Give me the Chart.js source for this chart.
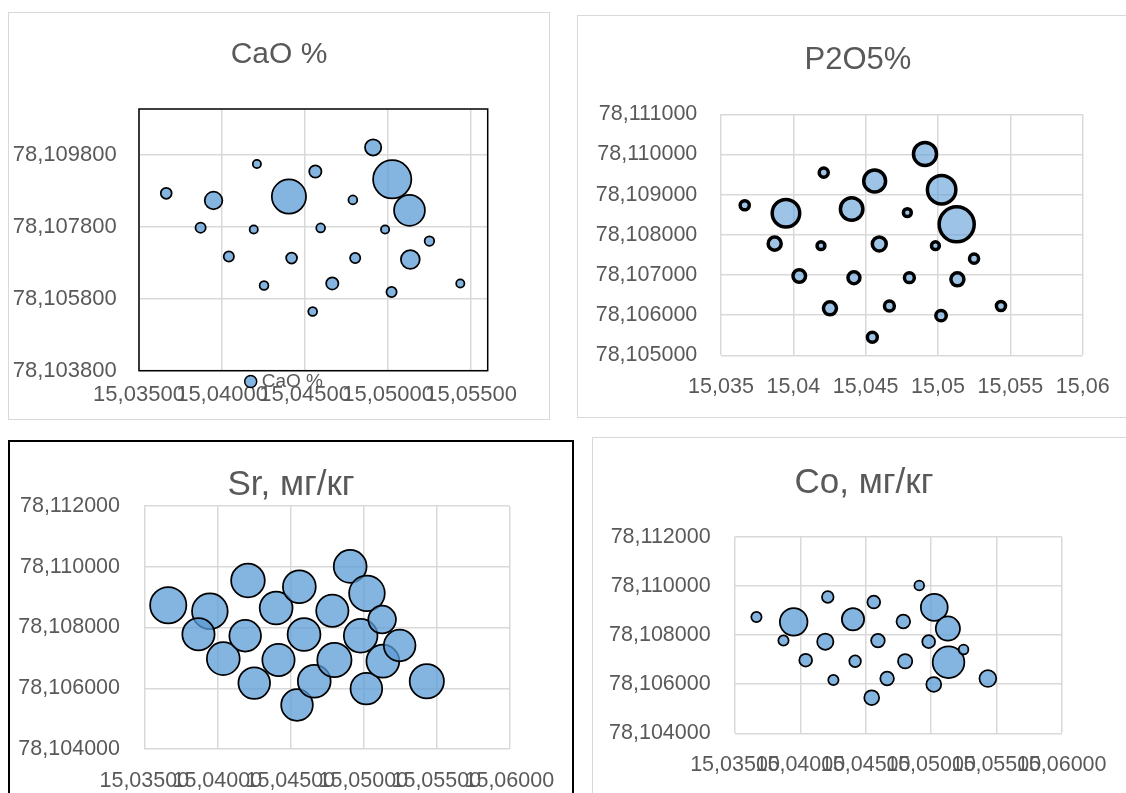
<!DOCTYPE html>
<html>
<head>
<meta charset="UTF-8">
<title>Bubble charts</title>
<style>
html, body {
	margin: 0;
	width: 1126px;
	height: 793px;
	overflow: hidden;
	background-color: #ffffff;
	font-family: "Liberation Sans", Arial, sans-serif;
}

.panel {
	position: absolute;
	box-sizing: border-box;
	border: 1px solid #d9d9d9;
	background-color: #ffffff;
	overflow: hidden;
}

.panel canvas {
	display: block;
}

#cao-box { left: 8px; top: 12px; width: 542px; height: 408px; }
#p2o5-box { left: 577px; top: 15px; width: 562px; height: 403px; }
#sr-box { left: 8px; top: 440px; width: 566px; height: 360px; border: 2px solid #000000; }
#co-box { left: 592px; top: 437px; width: 544px; height: 360px; }
</style>
<script src="https://cdn.jsdelivr.net/npm/chart.js"></script>
<script>
// sample points (longitude, latitude), same for every chart
var xCoords = [15.03664, 15.03949, 15.03871, 15.04041, 15.04210, 15.04191, 15.04253, 15.04403,
	15.04419, 15.04562, 15.04594, 15.04546, 15.04664, 15.04788, 15.04802, 15.04910,
	15.04982, 15.05025, 15.05021, 15.05129, 15.05134, 15.05249, 15.05435];
var yCoords = [78.108734, 78.108535, 78.107780, 78.106975, 78.109548, 78.107730, 78.106170, 78.108643,
	78.106933, 78.109340, 78.107772, 78.105448, 78.106228, 78.108552, 78.106933, 78.110012,
	78.107730, 78.109124, 78.105987, 78.108261, 78.106892, 78.107406, 78.106228];

// bubble sizes
var caoValues = [4.0, 9.4, 3.6, 3.6, 2.5, 2.5, 2.8, 32.4, 4.0, 4.9, 2.8, 2.8, 4.9, 2.8, 3.6, 8.1,
	2.5, 40.0, 3.6, 26.6, 10.6, 3.2, 2.5];
var p2o5Values = [3.2, 19.4, 5.5, 5.2, 3.2, 2.6, 5.5, 13.6, 4.8, 13.0, 6.1, 3.6, 3.6, 2.6, 3.6, 14.2,
	2.6, 20.6, 3.9, 30.0, 5.5, 3.2, 3.2];
var srValues = [1000, 969, 801, 829, 868, 773, 773, 829, 801, 829, 829, 773, 829, 801, 898, 829,
	868, 969, 773, 599, 829, 773, 898];
var coValues = [5.2, 31.0, 5.2, 7.6, 6.4, 11.6, 5.2, 20.7, 6.4, 7.6, 8.5, 9.9, 8.5, 8.5, 9.2, 4.7,
	7.6, 29.3, 9.9, 24.2, 40.0, 4.7, 12.4];

// axis ticks
var caoXTicks = [15.035, 15.040, 15.045, 15.050, 15.055];
var caoYTicks = [78.1038, 78.1058, 78.1078, 78.1098];
var fullXTicks = [15.035, 15.040, 15.045, 15.050, 15.055, 15.060];
var p2o5YTicks = [78.105, 78.106, 78.107, 78.108, 78.109, 78.110, 78.111];
var wideYTicks = [78.104, 78.106, 78.108, 78.110, 78.112];

function fmt(d) {
	return function(v) { return Number(v).toFixed(d).replace('.', ','); };
}
function fmtGeneral(v) {
	return String(parseFloat(Number(v).toFixed(3))).replace('.', ',');
}

function makeChart(id, c) {
	var vMax = Math.max.apply(null, c.values);
	var points = c.values.map(function(v, i) {
		return { x: xCoords[i], y: yCoords[i], r: c.bubbleMax * Math.sqrt(v / vMax) - c.bw / 2 };
	});
	var ctx = document.getElementById(id).getContext('2d');
	return new Chart(ctx, {
		type: 'bubble',
		data: {
			datasets: [{
				label: c.label,
				data: points,
				backgroundColor: c.fill,
				borderColor: '#000000',
				borderWidth: c.bw
			}]
		},
		options: {
			responsive: false,
			animation: false,
			events: [],
			layout: { padding: 0 },
			plugins: {
				legend: { display: false },
				tooltip: { enabled: false },
				title: {
					display: true,
					text: c.title,
					color: '#595959',
					font: { size: c.titleSize, weight: 'normal' },
					padding: { top: c.titleTop, bottom: c.titleBottom }
				}
			},
			scales: {
				x: {
					type: 'linear',
					min: c.xMin,
					max: c.xMax,
					afterBuildTicks: function(s) { s.ticks = c.xTicks.map(function(v) { return { value: v }; }); },
					afterFit: function(s) { s.height = c.xHeight; s.paddingLeft = 0; s.paddingRight = 0; },
					grid: { color: '#d9d9d9', lineWidth: 1.5, drawTicks: false },
					border: { display: false },
					ticks: {
						autoSkip: false, maxRotation: 0, minRotation: 0,
						padding: c.xPad, color: '#595959',
						font: { size: c.tickSize },
						callback: c.xFmt
					}
				},
				y: {
					type: 'linear',
					min: c.yMin,
					max: c.yMax,
					afterBuildTicks: function(s) { s.ticks = c.yTicks.map(function(v) { return { value: v }; }); },
					afterFit: function(s) { s.width = c.yWidth; s.paddingTop = 0; s.paddingBottom = 0; },
					grid: { color: '#d9d9d9', lineWidth: 1.5, drawTicks: false },
					border: { display: false },
					ticks: {
						autoSkip: false,
						padding: c.yPad, color: '#595959',
						font: { size: c.tickSize },
						callback: fmt(6)
					}
				},
				// empty right-hand box so the title stays centred on the panel
				gap: {
					type: 'linear',
					position: 'right',
					afterFit: function(s) { s.width = c.rightGap; s.paddingTop = 0; s.paddingBottom = 0; },
					grid: { display: false },
					border: { display: false },
					ticks: { display: false }
				}
			}
		},
		plugins: c.extra || []
	});
}

// black frame round the CaO plot area
var plotBorder = {
	id: 'plotBorder',
	beforeDatasetsDraw: function(chart) {
		var a = chart.chartArea, g = chart.ctx;
		g.save();
		g.strokeStyle = '#000000';
		g.lineWidth = 1.5;
		g.strokeRect(a.left, a.top, a.right - a.left, a.bottom - a.top);
		g.restore();
	}
};

// CaO legend sits just under the plot, over the tick labels
var legendUnder = {
	id: 'legendUnder',
	afterDraw: function(chart) {
		var a = chart.chartArea, g = chart.ctx;
		var ds = chart.data.datasets[0];
		var mx = a.left + 111.7, my = a.bottom + 10.8;
		g.save();
		g.beginPath();
		g.arc(mx, my, 6, 0, Math.PI * 2);
		g.fillStyle = ds.backgroundColor;
		g.fill();
		g.lineWidth = 1.5;
		g.strokeStyle = '#000000';
		g.stroke();
		g.font = '19px "Liberation Sans", Arial, sans-serif';
		g.fillStyle = '#595959';
		g.textBaseline = 'middle';
		g.fillText(ds.label, mx + 11, my);
		g.restore();
	}
};

document.addEventListener("DOMContentLoaded", function() {
	Chart.defaults.font.family = '"Liberation Sans", Arial, sans-serif';
	Chart.defaults.color = '#595959';

	makeChart('caoChart', {
		label: 'CaO %', title: 'CaO %', values: caoValues,
		fill: 'rgba(91, 155, 213, 0.75)', bw: 1.75, bubbleMax: 20,
		yWidth: 130, rightGap: 61.3, xHeight: 48.3,
		titleSize: 30, titleTop: 24, titleBottom: 36,
		tickSize: 22, xPad: 11.1, yPad: 22.3,
		xMin: 15.035, xMax: 15.056, xTicks: caoXTicks, xFmt: fmt(5),
		yMin: 78.1038, yMax: 78.11108, yTicks: caoYTicks,
		extra: [plotBorder, legendUnder]
	});

	makeChart('p2o5Chart', {
		label: 'P2O5%', title: 'P2O5%', values: p2o5Values,
		fill: 'rgba(91, 155, 213, 0.6)', bw: 3.5, bubbleMax: 19.3,
		yWidth: 143, rightGap: 55.3, xHeight: 61.7,
		titleSize: 31, titleTop: 25.9, titleBottom: 35.2,
		tickSize: 21.5, xPad: 19.1, yPad: 23.7,
		xMin: 15.035, xMax: 15.06, xTicks: fullXTicks, xFmt: fmtGeneral,
		yMin: 78.105, yMax: 78.111, yTicks: p2o5YTicks
	});

	makeChart('srChart', {
		label: 'Sr, мг/кг', title: 'Sr, мг/кг', values: srValues,
		fill: 'rgba(91, 155, 213, 0.75)', bw: 1.75, bubbleMax: 19,
		yWidth: 134.3, rightGap: 62.7, xHeight: 49,
		titleSize: 35, titleTop: 22, titleBottom: 0,
		tickSize: 21.5, xPad: 18.8, yPad: 24.3,
		xMin: 15.035, xMax: 15.06, xTicks: fullXTicks, xFmt: fmt(5),
		yMin: 78.104, yMax: 78.112, yTicks: wideYTicks
	});

	makeChart('coChart', {
		label: 'Co, мг/кг', title: 'Co, мг/кг', values: coValues,
		fill: 'rgba(91, 155, 213, 0.75)', bw: 1.75, bubbleMax: 16.7,
		yWidth: 142, rightGap: 73.3, xHeight: 62.7,
		titleSize: 35, titleTop: 24.3, titleBottom: 32.4,
		tickSize: 21.5, xPad: 18.8, yPad: 24.3,
		xMin: 15.035, xMax: 15.06, xTicks: fullXTicks, xFmt: fmt(5),
		yMin: 78.104, yMax: 78.112, yTicks: wideYTicks
	});
});
</script>
</head>
<body>
	<div class="panel" id="cao-box"><canvas id="caoChart" width="540" height="406"></canvas></div>
	<div class="panel" id="p2o5-box"><canvas id="p2o5Chart" width="560" height="401"></canvas></div>
	<div class="panel" id="sr-box"><canvas id="srChart" width="562" height="356"></canvas></div>
	<div class="panel" id="co-box"><canvas id="coChart" width="542" height="358"></canvas></div>
</body>
</html>
